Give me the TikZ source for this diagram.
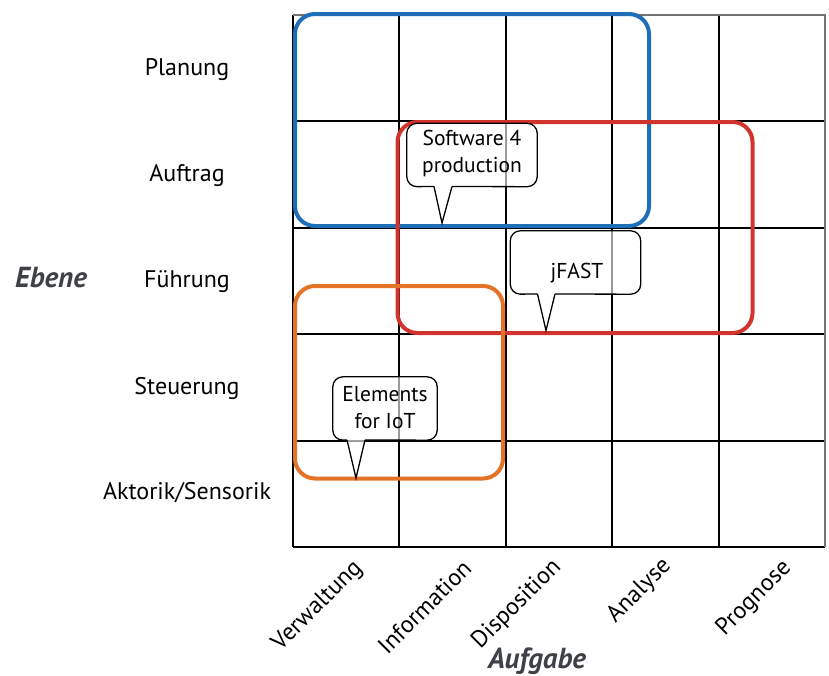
\documentclass[tikz,border=0pt]{standalone}
\usepackage{fontspec}
\setmainfont{PT Sans}
\usetikzlibrary{calc}
\definecolor{cblue}{HTML}{1F6FB8}
\definecolor{cred}{HTML}{D0342C}
\definecolor{corange}{HTML}{E27327}
\definecolor{axisgray}{HTML}{3E4146}
\begin{document}
\begin{tikzpicture}[x=1pt,y=-1pt,
  gridline/.style={line width=2pt,black},
  gridedge/.style={line width=1.2pt,black!55},
  group/.style={line width=4pt,rounded corners=20pt},
  lbl/.style={font=\fontsize{24}{28}\selectfont,inner sep=0pt},
  axlbl/.style={font=\fontsize{29}{33}\selectfont\bfseries\itshape,text=axisgray,inner sep=0pt},
  colbl/.style={font=\fontsize{24}{28}\selectfont,inner sep=0pt,anchor=base east,rotate=45},
  cobox/.style={draw=none,inner sep=0pt},
  coline/.style={line width=1.3pt,black,line join=miter},
  cofill/.style={fill=white,fill opacity=0.6},
  cotext/.style={font=\fontsize{21.5}{27}\selectfont,inner sep=0pt,align=center}
]
\useasboundingbox (0,0) rectangle (829,675);

% grid
\foreach \x in {293,399,506,612,719}{
  \draw[gridline] (\x,15) -- (\x,547);
}
\foreach \y in {121,228,334,441,547}{
  \draw[gridline] (293,\y) -- (825,\y);
}
\draw[gridedge] (293,15) -- (825,15) -- (825,547);

% row labels
\node[lbl,anchor=base] (planung) at (187,75) {Planung};
\node[lbl,anchor=base] (auftrag) at (187,181.5) {Auftrag};
\node[lbl,anchor=base] (fuehrung) at (187,287) {Führung};
\node[lbl,anchor=base] (steuerung) at (187,394) {Steuerung};
\node[lbl,anchor=base] (aktorik) at (187,499) {Aktorik/Sensorik};
\node[axlbl,anchor=base] (ebene) at (51,287) {Ebene};

% column labels
\node[colbl] (verwaltung) at (363,569) {Verwaltung};
\node[colbl] (information) at (473,570) {Information};
\node[colbl] (disposition) at (562,568) {Disposition};
\node[colbl] (analyse) at (672,567) {Analyse};
\node[colbl] (prognose) at (792,569) {Prognose};
\node[axlbl,anchor=base] (aufgabe) at (537,668) {Aufgabe};

% coloured groups
\draw[group,cblue] (295,14) rectangle (649,226);
\draw[group,cred] (397.5,122) rectangle (752.5,333);
\draw[group,corange] (295,286) rectangle (503,478.5);

% callout: Software 4 production
\node[cobox,minimum width=130pt,minimum height=63pt] (sw) at (472,155) {};
\fill[cofill,rounded corners=10pt] (sw.south west) rectangle (sw.north east);
\coordinate (swl) at (434,186.5);
\coordinate (swr) at (452,186.5);
\coordinate (swt) at (442,223);
\fill[cofill] (swl) -- (swt) -- (swr) -- cycle;
\draw[coline,rounded corners=10pt] (swr) -- (sw.south east) -- (sw.north east) -- (sw.north west) -- (sw.south west) -- (swl);
\draw[coline] (swl) -- (swt) -- (swr);
\node[cotext] (swtext) at (472,153.5) {Software 4\\production};

% callout: jFAST
\node[cobox,minimum width=130pt,minimum height=63pt] (jf) at (575.5,262.5) {};
\fill[cofill,rounded corners=10pt] (jf.south west) rectangle (jf.north east);
\coordinate (jfl) at (537.5,294);
\coordinate (jfr) at (555,294);
\coordinate (jft) at (546,330.5);
\fill[cofill] (jfl) -- (jft) -- (jfr) -- cycle;
\draw[coline,rounded corners=10pt] (jfr) -- (jf.south east) -- (jf.north east) -- (jf.north west) -- (jf.south west) -- (jfl);
\draw[coline] (jfl) -- (jft) -- (jfr);
\node[cotext] (jftext) at (577,273) {jFAST};

% callout: Elements for IoT
\node[cobox,minimum width=104pt,minimum height=63pt] (el) at (385,408.5) {};
\fill[cofill,rounded corners=10pt] (el.south west) rectangle (el.north east);
\coordinate (ell) at (347,440);
\coordinate (elr) at (365,440);
\coordinate (elt) at (356,478);
\fill[cofill] (ell) -- (elt) -- (elr) -- cycle;
\draw[coline,rounded corners=10pt] (elr) -- (el.south east) -- (el.north east) -- (el.north west) -- (el.south west) -- (ell);
\draw[coline] (ell) -- (elt) -- (elr);
\node[cotext] (eltext) at (385,408) {Elements\\for IoT};
\end{tikzpicture}
\end{document}
